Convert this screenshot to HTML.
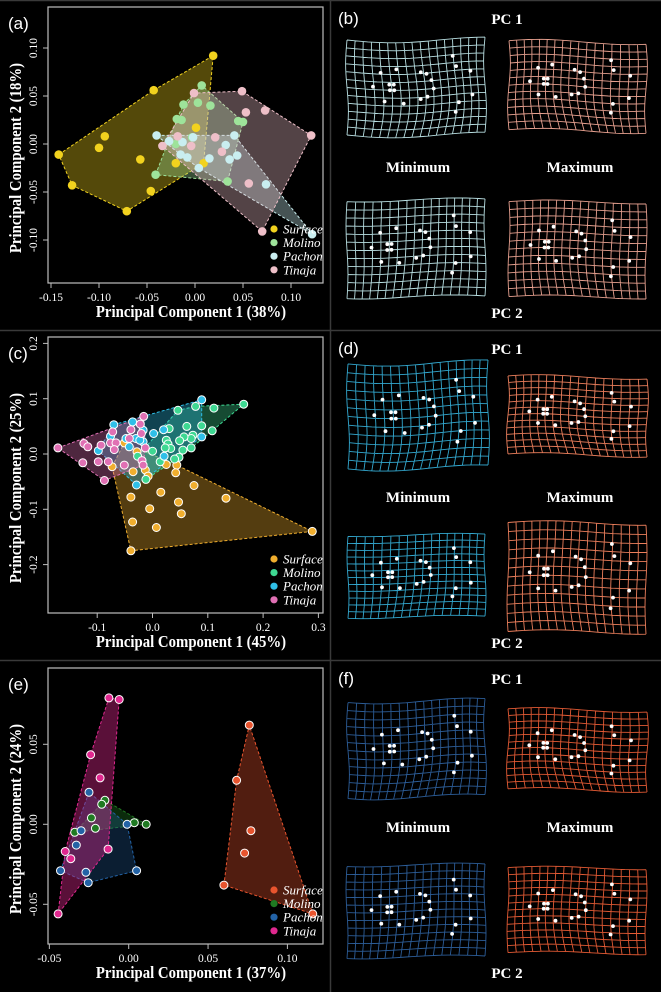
<!DOCTYPE html>
<html><head><meta charset="utf-8">
<style>
html,body{margin:0;padding:0;background:#000;}
svg{display:block;}
text{font-family:"Liberation Serif",serif;fill:#fff;}
</style></head>
<body>
<svg id="fig" width="661" height="992" viewBox="0 0 661 992" xmlns="http://www.w3.org/2000/svg">
<rect x="0" y="0" width="661" height="992" fill="#000"/>
<g stroke="#3a3a3a" stroke-width="1.5">
<line x1="0" y1="0.5" x2="661" y2="0.5"/><line x1="330.5" y1="0" x2="330.5" y2="992"/>
<line x1="0" y1="330.5" x2="661" y2="330.5"/><line x1="0" y1="660.5" x2="661" y2="660.5"/>
</g>
</svg>
<script>
// ---------- Panel (a) data ----------
const aGroups = ["Surface","Molino","Pachon","Tinaja"];
const aSurfaceX = [0.019,-0.043,-0.094,-0.100,-0.142,-0.128,-0.071,-0.046,-0.057,-0.020,0.001,0.009];
const aSurfaceY = [0.092,0.056,0.008,-0.004,-0.011,-0.043,-0.070,-0.049,-0.016,-0.020,0.017,-0.020];
const aMolinoX = [0.007,0.003,0.016,-0.012,-0.019,-0.014,0.045,0.050,-0.020,-0.014,-0.041,0.034,-0.003];
const aMolinoY = [0.061,0.043,0.040,0.041,0.026,0.025,0.024,0.023,0.000,0.002,-0.032,-0.039,0.007];
const aPachonX = [-0.040,-0.027,-0.013,-0.002,-0.015,-0.008,0.004,0.015,0.032,0.041,0.044,0.036,0.122,0.074];
const aPachonY = [0.009,0.003,0.002,0.007,-0.011,-0.014,-0.025,-0.015,-0.001,0.009,-0.012,-0.016,-0.094,-0.042];
const aTinajaX = [-0.001,0.049,0.053,0.073,0.121,-0.034,-0.018,-0.004,0.021,0.028,0.056,0.070];
const aTinajaY = [0.053,0.055,0.033,0.035,0.009,-0.002,0.008,-0.002,0.007,-0.008,-0.041,-0.091];
const aXTicks = [-0.15,-0.10,-0.05,0.00,0.05,0.10];
const aYTicks = [-0.10,-0.05,0.00,0.05,0.10];

// ---------- Panel (c) data ----------
const cSurfaceX = [0.289,-0.039,-0.073,0.133,0.075,0.047,0.052,0.015,-0.005,0.007,-0.036,-0.039,0.044,0.042,0.025,-0.028,-0.035,-0.013,-0.008,-0.051];
const cSurfaceY = [-0.140,-0.175,-0.023,-0.080,-0.057,-0.087,-0.108,-0.069,-0.099,-0.133,-0.123,-0.078,-0.020,-0.034,-0.019,0.004,-0.032,-0.029,-0.040,0.020];
const cMolinoX = [0.165,0.111,0.078,0.046,0.108,0.089,0.062,0.073,0.070,0.070,0.057,0.049,0.025,0.028,0.033,0.023,0.055,0.048,0.040,0.014,0.000,-0.027,-0.012,0.030];
const cMolinoY = [0.090,0.083,0.086,0.079,0.042,0.051,0.050,0.034,0.028,0.011,0.031,0.024,0.025,0.018,0.010,0.011,0.007,-0.006,-0.009,-0.014,0.005,-0.004,-0.046,0.046];
const cPachonX = [0.089,0.089,0.020,0.002,0.021,-0.029,-0.070,-0.036,-0.098,-0.076,-0.048,-0.030,-0.017,-0.017,-0.023,-0.042];
const cPachonY = [0.098,0.031,0.044,0.037,-0.004,-0.056,0.053,0.058,0.006,0.032,0.028,0.028,0.043,0.022,0.025,0.013];
const cTinajaX = [-0.171,-0.124,-0.117,-0.126,-0.098,-0.093,-0.087,-0.080,-0.016,-0.020,-0.022,-0.039,-0.042,-0.072,-0.076,-0.066,-0.069,-0.051,-0.019,-0.017,-0.013];
const cTinajaY = [0.011,0.019,0.013,-0.016,-0.014,0.016,-0.048,-0.014,0.068,0.037,0.054,0.044,0.028,0.040,0.020,0.020,0.008,-0.020,-0.012,-0.020,0.011];
const cXTicks = [-0.1,0.0,0.1,0.2,0.3];
const cYTicks = [-0.2,-0.1,0.0,0.1,0.2];

// ---------- Panel (e) data ----------
const eSurfaceX = [0.076,0.068,0.077,0.073,0.060,0.116];
const eSurfaceY = [0.062,0.0275,-0.004,-0.018,-0.038,-0.056];
const eMolinoX = [-0.015,-0.017,-0.0235,-0.021,-0.034,0.0035,0.011];
const eMolinoY = [0.015,0.0125,0.004,-0.0025,-0.005,0.001,0.000];
const ePachonX = [-0.025,-0.030,-0.033,-0.043,-0.027,-0.0255,0.005,-0.001];
const ePachonY = [0.020,-0.004,-0.013,-0.029,-0.030,-0.0365,-0.029,0.000];
const eTinajaX = [-0.0125,-0.006,-0.024,-0.018,-0.040,-0.0365,-0.013,-0.0445];
const eTinajaY = [0.079,0.078,0.0435,0.029,-0.017,-0.0215,-0.0155,-0.056];
const eXTicks = [-0.05,0.00,0.05,0.10];
const eYTicks = [-0.05,0.00,0.05];

const NS = "http://www.w3.org/2000/svg";
const svg = document.getElementById("fig");
function mk(tag, attrs, parent){
  const el = document.createElementNS(NS, tag);
  for (const k in attrs) el.setAttribute(k, attrs[k]);
  (parent||svg).appendChild(el);
  return el;
}
function hull(pts){
  const p = pts.slice().sort((a,b)=>a[0]-b[0]||a[1]-b[1]);
  if (p.length<3) return p;
  const cr=(o,a,b)=>(a[0]-o[0])*(b[1]-o[1])-(a[1]-o[1])*(b[0]-o[0]);
  const lo=[],up=[];
  for(const q of p){while(lo.length>=2&&cr(lo[lo.length-2],lo[lo.length-1],q)<=0)lo.pop();lo.push(q);}
  for(let i=p.length-1;i>=0;i--){const q=p[i];while(up.length>=2&&cr(up[up.length-2],up[up.length-1],q)<=0)up.pop();up.push(q);}
  up.pop();lo.pop();return lo.concat(up);
}
function fmt(v,d){ return (v<0?"-":"")+Math.abs(v).toFixed(d); }

function scatter(cfg){
  const g = mk("g",{});
  
  
  const X = v => cfg.px0 + (v - cfg.x0)*cfg.kx;
  const Y = v => cfg.py0 - (v - cfg.y0)*cfg.ky;
  cfg.series.forEach((s,i)=>{
    const pts = s.x.map((v,j)=>[X(v),Y(s.y[j])]);
    const h = hull(pts);
    const poly = mk("polygon",{points:h.map(p=>p[0].toFixed(1)+","+p[1].toFixed(1)).join(" "),fill:s.color,"fill-opacity":s.fo||0.35,stroke:s.color,"stroke-width":1,"stroke-dasharray":"3,2"},g);
    
    
  });
  cfg.series.forEach((s,i)=>{
    s.x.forEach((v,j)=>{
      const c = mk("circle",{cx:X(v).toFixed(1),cy:Y(s.y[j]).toFixed(1),r:cfg.outline?4:4.3,fill:s.color,stroke:cfg.outline?"#fff":"none","stroke-width":cfg.outline?1:0},g);
      
      
    });
  });
  const box = mk("rect",{x:48,y:cfg.top,width:275,height:276,fill:"none",stroke:"#bdbdbd","stroke-width":1.2},g);
  
  
  const bot = cfg.top+276;
  const xa = mk("g",{},g);
  
  
  cfg.xt.forEach(t=>{
    const x = X(t);
    mk("line",{x1:x,y1:bot,x2:x,y2:bot+5,stroke:"#bdbdbd","stroke-width":1},xa);
    const tx = mk("text",{x:x,y:bot+18,"font-size":11.5,"text-anchor":"middle"},xa);
    tx.textContent = fmt(t,cfg.xd);
    
    
  });
  mk("line",{x1:X(cfg.xt[0]),y1:bot,x2:X(cfg.xt[cfg.xt.length-1]),y2:bot,stroke:"#bdbdbd","stroke-width":1},xa);
  const ya = mk("g",{},g);
  
  
  cfg.yt.forEach(t=>{
    const y = Y(t);
    mk("line",{x1:48,y1:y,x2:43,y2:y,stroke:"#bdbdbd","stroke-width":1},ya);
    const tx = mk("text",{x:0,y:0,"font-size":11.5,"text-anchor":"middle",transform:`translate(37,${y}) rotate(-90)`},ya);
    tx.textContent = fmt(t,cfg.yd);
    
    
  });
  const xt = mk("text",{x:191,y:cfg.top+310,"font-size":14.8,"font-weight":"bold","text-anchor":"middle",transform:`translate(0,${-(cfg.top+310)*0.12}) scale(1,1.12)`},g);
  xt.textContent = cfg.xtitle;
  
  
  const yt = mk("text",{x:0,y:0,"font-size":14.8,"font-weight":"bold","text-anchor":"middle",transform:`translate(21,${cfg.top+151}) rotate(-90) scale(1,1.12)`},g);
  yt.textContent = cfg.ytitle;
  
  
  const pl = mk("text",{x:8,y:cfg.top+22,"font-size":17},g);
  pl.setAttribute("style","font-family:'Liberation Sans',sans-serif");
  pl.textContent = cfg.panel;
  
  
  const lg = mk("g",{},g);
  
  
  cfg.series.forEach((s,i)=>{
    const y = cfg.top+222+i*13.6;
    const e = mk("g",{},lg);
    
    
    mk("circle",{cx:274,cy:y,r:3.6,fill:s.color},e);
    const t = mk("text",{x:283,y:y+4.5,"font-size":13,"font-style":"italic"},e);
    t.textContent = s.label;
  });
}

scatter({name:"scatter-panel-a",panel:"(a)",top:7,px0:51,x0:-0.15,kx:960,py0:48,y0:0.10,ky:960,xt:aXTicks,yt:aYTicks,xd:2,yd:2,
  xtitle:"Principal Component 1 (38%)",ytitle:"Principal Component 2 (18%)",outline:false,
  series:[{label:aGroups[0],x:aSurfaceX,y:aSurfaceY,color:"#f2d21e"},{label:aGroups[1],x:aMolinoX,y:aMolinoY,color:"#9ee39a"},
          {label:aGroups[2],x:aPachonX,y:aPachonY,color:"#c9eef0"},{label:aGroups[3],x:aTinajaX,y:aTinajaY,color:"#eebfc8"}]});
scatter({name:"scatter-panel-c",panel:"(c)",top:337,px0:152.5,x0:0,kx:553,py0:454,y0:0,ky:553,xt:cXTicks,yt:cYTicks,xd:1,yd:1,
  xtitle:"Principal Component 1 (45%)",ytitle:"Principal Component 2 (25%)",outline:true,
  series:[{label:"Surface",x:cSurfaceX,y:cSurfaceY,color:"#f0ae2e"},{label:"Molino",x:cMolinoX,y:cMolinoY,color:"#3ed892"},
          {label:"Pachon",x:cPachonX,y:cPachonY,color:"#2fbfe8"},{label:"Tinaja",x:cTinajaX,y:cTinajaY,color:"#e070b4"}]});
scatter({name:"scatter-panel-e",panel:"(e)",top:668,px0:128.7,x0:0,kx:1587,py0:824.3,y0:0,ky:1600,xt:eXTicks,yt:eYTicks,xd:2,yd:2,
  xtitle:"Principal Component 1 (37%)",ytitle:"Principal Component 2 (24%)",outline:true,
  series:[{label:"Surface",x:eSurfaceX,y:eSurfaceY,color:"#e8542e"},{label:"Molino",x:eMolinoX,y:eMolinoY,color:"#1f7a22"},
          {label:"Pachon",x:ePachonX,y:ePachonY,color:"#2363a6",fo:0.3},{label:"Tinaja",x:eTinajaX,y:eTinajaY,color:"#e0288f",fo:0.4}]});

// ---------- deformation grids ----------
const landmarkU = [0.23,0.34,0.17,0.28,0.31,0.28,0.31,0.24,0.37,0.51,0.55,0.58,0.59,0.54,0.49,0.76,0.78,0.89,0.89,0.78,0.76];
const landmarkV = [0.32,0.28,0.47,0.44,0.44,0.50,0.50,0.62,0.64,0.32,0.34,0.41,0.50,0.58,0.60,0.18,0.29,0.35,0.60,0.67,0.77];
function defgrid(name,x0,y0,w,h,color,amp,ph){
  const g = mk("g",{});
  
  
  const cols=17, rows=12;
  const P=(u,v)=>{
    const dx = amp*Math.sin(Math.PI*v+ph)*Math.sin(Math.PI*u)*w*0.04 + amp*Math.sin(2*Math.PI*(v-0.5))*w*0.01;
    const dy = amp*Math.sin(Math.PI*u*1.5+ph)*h*0.03;
    return [x0+u*w+dx, y0+v*h+dy];
  };
  let d="";
  for(let i=0;i<=cols;i++){ d+="M"; for(let k=0;k<=20;k++){const p=P(i/cols,k/20);d+=(k?"L":"")+p[0].toFixed(1)+","+p[1].toFixed(1);} }
  for(let j=0;j<=rows;j++){ d+="M"; for(let k=0;k<=20;k++){const p=P(k/20,j/rows);d+=(k?"L":"")+p[0].toFixed(1)+","+p[1].toFixed(1);} }
  mk("path",{d:d,fill:"none",stroke:color,"stroke-width":0.9},g);
  landmarkU.forEach((u,i)=>{
    const p=P(u,landmarkV[i]);
    const c = mk("circle",{cx:p[0].toFixed(1),cy:p[1].toFixed(1),r:1.9,fill:"#fff"},g);
    
    
  });
}
function label(txt,x,y,size,name){
  const t = mk("text",{x:x,y:y,"font-size":size,"font-weight":"bold","text-anchor":"middle"});
  t.textContent = txt;
  
  
  return t;
}
const rowsCfg = [
  {off:0,pl:"(b)",minC:"#b9dfe2",maxC:"#e6a08f",g:[[347,40,138,95],[509,42,137,89],[347,200,138,97],[509,202,137,95]]},
  {off:330,pl:"(d)",minC:"#33a8cf",maxC:"#ec7f5c",g:[[348,363,140,105],[508,377,139,78],[348,535,137,82],[508,523,138,109]]},
  {off:660,pl:"(f)",minC:"#2c5d98",maxC:"#e25a34",g:[[348,701,137,96],[508,710,139,80],[347,865,138,92],[508,868,138,85]]}
];
rowsCfg.forEach((r,ri)=>{
  const o=r.off;
  const t = mk("text",{x:338,y:o+24,"font-size":17});
  t.setAttribute("style","font-family:'Liberation Sans',sans-serif");
  t.textContent=r.pl;
  
  
  label("PC 1",507,o+24,15,"pc1-label");
  label("Minimum",418,o+172,15,"minimum-label");
  label("Maximum",580,o+172,15,"maximum-label");
  label("PC 2",507,o+318,15,"pc2-label");
  defgrid("grid-pc1-min",...r.g[0],r.minC,1,0.3*ri);
  defgrid("grid-pc1-max",...r.g[1],r.maxC,-1,0.5);
  defgrid("grid-pc2-min",...r.g[2],r.minC,0.7,1.0);
  defgrid("grid-pc2-max",...r.g[3],r.maxC,-0.7,0.2);
});
</script>
</body></html>
